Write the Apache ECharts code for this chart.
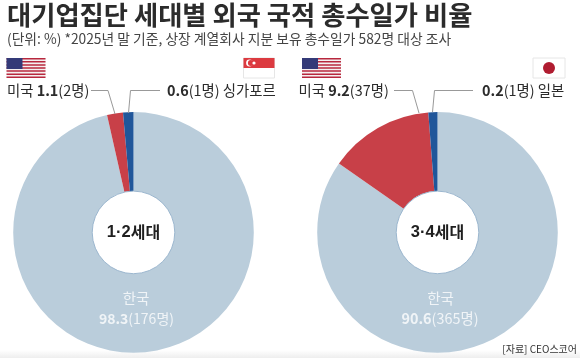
<!DOCTYPE html>
<html><head><meta charset="utf-8">
<style>html,body{margin:0;padding:0;background:#fff}#c{width:580px;height:358px}</style>
<script src="https://cdn.jsdelivr.net/npm/echarts@6/dist/echarts.min.js"></script>
</head><body><div id="c"></div>
<script>
// Slice names and the shares as drawn in the picture (% of circle)
const sliceNames = ['한국', '미국', '기타'];
const sharesLeft = [96.47, 2.14, 1.39];
const sharesRight = [84.72, 14.06, 1.22];
const colors = ['#bacddb', '#c84048', '#20569a'];
// Printed labels
const title = '대기업집단 세대별 외국 국적 총수일가 비율';
const subtitle = '(단위: %) *2025년 말 기준, 상장 계열회사 지분 보유 총수일가 582명 대상 조사';
const source = '[자료] CEO스코어';
const centerLeft = ['1·2', '세대'], centerRight = ['3·4', '세대'];
const font = '"Noto Sans CJK KR","Noto Sans",sans-serif';
const ink = '#2b2b2b';
const cy = 232.4, rIn = 41.3, rOut = 120.3;

function pie(cx, data) {
  return {
    type: 'pie', silent: true, center: [cx, cy], radius: [rIn, rOut],
    startAngle: 90, clockwise: true, animation: false,
    label: {show: false}, labelLine: {show: false},
    data: data.map((v, i) => ({name: sliceNames[i], value: v, itemStyle: {color: colors[i]}}))
  };
}
function txt(x, y, rich, align) {
  return {type: 'text', z: 10, x, y, style: {text: rich, align: align || 'left', verticalAlign: 'middle', font: '14.4px ' + font, fill: ink,
    rich: {b: {font: 'bold 14.4px ' + font, fill: ink}, n: {font: '14.4px ' + font, fill: ink}}}};
}
function whiteTxt(x, y, rich, size) {
  return {type: 'text', z: 10, x, y, style: {text: rich, align: 'center', verticalAlign: 'middle', font: size + 'px ' + font, fill: '#f0f4f7',
    rich: {b: {font: 'bold ' + size + 'px ' + font, fill: '#f0f4f7'}, n: {font: size + 'px ' + font, fill: '#f0f4f7'}}}};
}
function centerTxt(x, parts) {
  return {type: 'text', z: 10, x, y: cy, style: {text: '{a|' + parts[0] + '}{k|' + parts[1] + '}', align: 'center', verticalAlign: 'middle', font: 'bold 16px ' + font, fill: '#1f1f1f',
    rich: {a: {font: 'bold 16.5px "Liberation Sans",sans-serif', fill: '#1f1f1f'}, k: {font: 'bold 16px ' + font, fill: '#1f1f1f'}}}};
}
function line(points) {
  return {type: 'polyline', z: 10, shape: {points}, style: {stroke: '#999', lineWidth: 1, fill: null}};
}
function ring(cx) {
  return {type: 'circle', z: 10, shape: {cx, cy, r: rIn}, style: {fill: null, stroke: '#9cb7cf', lineWidth: 1}};
}
function usFlag(x, y) {
  const w = 39, h = 20, out = [];
  out.push({type: 'rect', z: 10, shape: {x, y, width: w, height: h}, style: {fill: '#f5f0f0'}});
  for (let i = 0; i < 7; i++) out.push({type: 'rect', z: 10, shape: {x, y: y + i * h * 2 / 13, width: w, height: h / 13}, style: {fill: '#b8283e'}});
  out.push({type: 'rect', z: 10, shape: {x, y, width: 16, height: 11}, style: {fill: '#343a78'}});
  return out;
}
function sgFlag(x, y) {
  return [
    {type: 'rect', z: 10, shape: {x, y, width: 31, height: 20}, style: {fill: '#fff', stroke: '#e6e6e6', lineWidth: 1}},
    {type: 'rect', z: 10, shape: {x, y, width: 31, height: 10}, style: {fill: '#dc3a40'}},
    {type: 'circle', z: 10, shape: {cx: x + 6, cy: y + 5, r: 3.4}, style: {fill: '#fff'}},
    {type: 'circle', z: 10, shape: {cx: x + 7.4, cy: y + 5, r: 3}, style: {fill: '#dc3a40'}},
    {type: 'circle', z: 10, shape: {cx: x + 10.5, cy: y + 5, r: 1.6}, style: {fill: '#fff'}}
  ];
}
function jpFlag(x, y) {
  return [
    {type: 'rect', z: 10, shape: {x, y, width: 32, height: 20}, style: {fill: '#fff', stroke: '#e6e6e6', lineWidth: 1}},
    {type: 'circle', z: 10, shape: {cx: x + 16, cy: y + 10, r: 6}, style: {fill: '#b01c30'}}
  ];
}
const graphics = [
  {type: 'rect', z: 1, shape: {x: 0, y: 350, width: 580, height: 8}, style: {fill: new echarts.graphic.LinearGradient(0, 0, 0, 1, [{offset: 0, color: '#ffffff'}, {offset: 1, color: '#eeeeee'}])}},
  {type: 'text', z: 10, x: 7, y: 15, style: {text: title, font: 'bold 26.3px ' + font, fill: ink, verticalAlign: 'middle'}},
  {type: 'text', z: 10, x: 7, y: 39, style: {text: subtitle, font: '13.8px ' + font, fill: '#444', verticalAlign: 'middle'}},
  ...usFlag(6.5, 58), ...sgFlag(243.5, 58), ...usFlag(302, 58), ...jpFlag(533, 58),
  txt(7, 91, '{n|미국} {b|1.1}{n|(2명)}'),
  txt(167, 91, '{b|0.6}{n|(1명) 싱가포르}'),
  txt(298.5, 91, '{n|미국} {b|9.2}{n|(37명)}'),
  txt(482, 91, '{b|0.2}{n|(1명) 일본}'),
  line([[91, 90.5], [108, 90.5], [115, 114]]),
  line([[160, 90.5], [130.5, 90.5], [128.5, 113]]),
  line([[394, 90.5], [412.5, 90.5], [419, 113]]),
  line([[473, 90.5], [434.5, 90.5], [432.5, 112]]),
  ring(133.5), ring(437.5),
  centerTxt(133.5, centerLeft),
  centerTxt(437.5, centerRight),
  whiteTxt(136, 298, '{n|한국}', 14.5),
  whiteTxt(136.5, 318.5, '{b|98.3}{n|(176명)}', 14),
  whiteTxt(440.5, 298, '{n|한국}', 14.5),
  whiteTxt(440, 318.5, '{b|90.6}{n|(365명)}', 14.4),
  {type: 'text', z: 10, x: 577, y: 349, style: {text: source, align: 'right', verticalAlign: 'middle', font: '10px ' + font, fill: '#333'}}
];
const chart = echarts.init(document.getElementById('c'), null, {renderer: 'canvas'});
chart.setOption({animation: false, backgroundColor: '#fff',
  series: [pie(133.5, sharesLeft), pie(437.5, sharesRight)],
  graphic: {elements: graphics}});
</script></body></html>
